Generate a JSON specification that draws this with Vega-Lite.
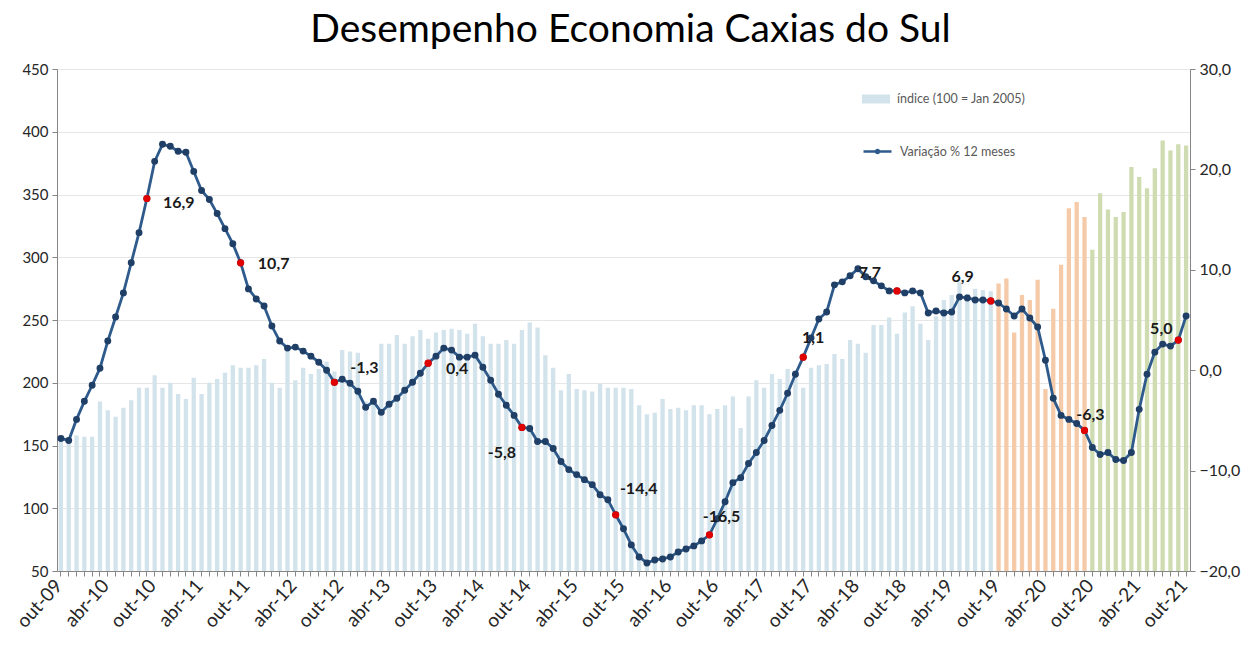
{
  "$schema": "https://vega.github.io/schema/vega-lite/v6.json",
  "width": 1133,
  "height": 502,
  "autosize": {"type": "none"},
  "padding": {"left": 57, "top": 69, "right": 58, "bottom": 77},
  "background": "white",
  "title": {"text": "Desempenho Economia Caxias do Sul", "fontSize": 39, "font": "Lato", "fontWeight": "normal", "color": "#000000", "anchor": "middle", "frame": "group", "baseline": "alphabetic", "offset": 23, "dy": 43, "dx": 7},
  "config": {
    "view": {"stroke": null},
    "font": "Lato",
    "axis": {"domainColor": "#868686", "tickColor": "#868686", "labelColor": "#262626", "labelFont": "Lato"},
    "legend": {"labelFont": "Lato", "labelFontSize": 12.5, "labelColor": "#595959", "padding": 0},
    "text": {"fontSize": 16, "fontWeight": "bold", "font": "Lato", "color": "#1a1a1a", "align": "center", "baseline": "middle"}
  },
  "data": {"values": [
    {"mes":"out-09","indice":153,"variacao":-6.8,"serie":"índice (100 = Jan 2005)","rotulo":""},
    {"mes":"nov-09","indice":153,"variacao":-7.0,"serie":"índice (100 = Jan 2005)","rotulo":""},
    {"mes":"dez-09","indice":158,"variacao":-4.9,"serie":"índice (100 = Jan 2005)","rotulo":""},
    {"mes":"jan-10","indice":157,"variacao":-3.1,"serie":"índice (100 = Jan 2005)","rotulo":""},
    {"mes":"fev-10","indice":157,"variacao":-1.5,"serie":"índice (100 = Jan 2005)","rotulo":""},
    {"mes":"mar-10","indice":185,"variacao":0.2,"serie":"índice (100 = Jan 2005)","rotulo":""},
    {"mes":"abr-10","indice":178,"variacao":2.9,"serie":"índice (100 = Jan 2005)","rotulo":""},
    {"mes":"mai-10","indice":173,"variacao":5.3,"serie":"índice (100 = Jan 2005)","rotulo":""},
    {"mes":"jun-10","indice":180,"variacao":7.7,"serie":"índice (100 = Jan 2005)","rotulo":""},
    {"mes":"jul-10","indice":186,"variacao":10.7,"serie":"índice (100 = Jan 2005)","rotulo":""},
    {"mes":"ago-10","indice":196,"variacao":13.7,"serie":"índice (100 = Jan 2005)","rotulo":""},
    {"mes":"set-10","indice":196,"variacao":17.1,"serie":"índice (100 = Jan 2005)","rotulo":"16,9"},
    {"mes":"out-10","indice":206,"variacao":20.8,"serie":"índice (100 = Jan 2005)","rotulo":""},
    {"mes":"nov-10","indice":196,"variacao":22.5,"serie":"índice (100 = Jan 2005)","rotulo":""},
    {"mes":"dez-10","indice":200,"variacao":22.3,"serie":"índice (100 = Jan 2005)","rotulo":""},
    {"mes":"jan-11","indice":191,"variacao":21.8,"serie":"índice (100 = Jan 2005)","rotulo":""},
    {"mes":"fev-11","indice":187,"variacao":21.7,"serie":"índice (100 = Jan 2005)","rotulo":""},
    {"mes":"mar-11","indice":204,"variacao":19.8,"serie":"índice (100 = Jan 2005)","rotulo":""},
    {"mes":"abr-11","indice":191,"variacao":17.9,"serie":"índice (100 = Jan 2005)","rotulo":""},
    {"mes":"mai-11","indice":200,"variacao":17.0,"serie":"índice (100 = Jan 2005)","rotulo":""},
    {"mes":"jun-11","indice":203,"variacao":15.6,"serie":"índice (100 = Jan 2005)","rotulo":""},
    {"mes":"jul-11","indice":208,"variacao":14.1,"serie":"índice (100 = Jan 2005)","rotulo":""},
    {"mes":"ago-11","indice":214,"variacao":12.6,"serie":"índice (100 = Jan 2005)","rotulo":""},
    {"mes":"set-11","indice":212,"variacao":10.7,"serie":"índice (100 = Jan 2005)","rotulo":"10,7"},
    {"mes":"out-11","indice":212,"variacao":8.1,"serie":"índice (100 = Jan 2005)","rotulo":""},
    {"mes":"nov-11","indice":214,"variacao":7.1,"serie":"índice (100 = Jan 2005)","rotulo":""},
    {"mes":"dez-11","indice":219,"variacao":6.4,"serie":"índice (100 = Jan 2005)","rotulo":""},
    {"mes":"jan-12","indice":200,"variacao":4.4,"serie":"índice (100 = Jan 2005)","rotulo":""},
    {"mes":"fev-12","indice":196,"variacao":2.9,"serie":"índice (100 = Jan 2005)","rotulo":""},
    {"mes":"mar-12","indice":226,"variacao":2.2,"serie":"índice (100 = Jan 2005)","rotulo":""},
    {"mes":"abr-12","indice":202,"variacao":2.3,"serie":"índice (100 = Jan 2005)","rotulo":""},
    {"mes":"mai-12","indice":212,"variacao":1.9,"serie":"índice (100 = Jan 2005)","rotulo":""},
    {"mes":"jun-12","indice":207,"variacao":1.4,"serie":"índice (100 = Jan 2005)","rotulo":""},
    {"mes":"jul-12","indice":211,"variacao":0.8,"serie":"índice (100 = Jan 2005)","rotulo":""},
    {"mes":"ago-12","indice":217,"variacao":0.0,"serie":"índice (100 = Jan 2005)","rotulo":""},
    {"mes":"set-12","indice":209,"variacao":-1.2,"serie":"índice (100 = Jan 2005)","rotulo":"-1,3"},
    {"mes":"out-12","indice":226,"variacao":-0.9,"serie":"índice (100 = Jan 2005)","rotulo":""},
    {"mes":"nov-12","indice":225,"variacao":-1.3,"serie":"índice (100 = Jan 2005)","rotulo":""},
    {"mes":"dez-12","indice":224,"variacao":-2.1,"serie":"índice (100 = Jan 2005)","rotulo":""},
    {"mes":"jan-13","indice":185,"variacao":-3.7,"serie":"índice (100 = Jan 2005)","rotulo":""},
    {"mes":"fev-13","indice":183,"variacao":-3.1,"serie":"índice (100 = Jan 2005)","rotulo":""},
    {"mes":"mar-13","indice":231,"variacao":-4.2,"serie":"índice (100 = Jan 2005)","rotulo":""},
    {"mes":"abr-13","indice":231,"variacao":-3.4,"serie":"índice (100 = Jan 2005)","rotulo":""},
    {"mes":"mai-13","indice":238,"variacao":-2.8,"serie":"índice (100 = Jan 2005)","rotulo":""},
    {"mes":"jun-13","indice":231,"variacao":-2.0,"serie":"índice (100 = Jan 2005)","rotulo":""},
    {"mes":"jul-13","indice":237,"variacao":-1.2,"serie":"índice (100 = Jan 2005)","rotulo":""},
    {"mes":"ago-13","indice":242,"variacao":-0.3,"serie":"índice (100 = Jan 2005)","rotulo":""},
    {"mes":"set-13","indice":235,"variacao":0.7,"serie":"índice (100 = Jan 2005)","rotulo":"0,4"},
    {"mes":"out-13","indice":240,"variacao":1.4,"serie":"índice (100 = Jan 2005)","rotulo":""},
    {"mes":"nov-13","indice":242,"variacao":2.2,"serie":"índice (100 = Jan 2005)","rotulo":""},
    {"mes":"dez-13","indice":243,"variacao":2.0,"serie":"índice (100 = Jan 2005)","rotulo":""},
    {"mes":"jan-14","indice":242,"variacao":1.3,"serie":"índice (100 = Jan 2005)","rotulo":""},
    {"mes":"fev-14","indice":239,"variacao":1.3,"serie":"índice (100 = Jan 2005)","rotulo":""},
    {"mes":"mar-14","indice":247,"variacao":1.5,"serie":"índice (100 = Jan 2005)","rotulo":""},
    {"mes":"abr-14","indice":237,"variacao":0.3,"serie":"índice (100 = Jan 2005)","rotulo":""},
    {"mes":"mai-14","indice":231,"variacao":-1.0,"serie":"índice (100 = Jan 2005)","rotulo":""},
    {"mes":"jun-14","indice":231,"variacao":-2.4,"serie":"índice (100 = Jan 2005)","rotulo":""},
    {"mes":"jul-14","indice":234,"variacao":-3.5,"serie":"índice (100 = Jan 2005)","rotulo":""},
    {"mes":"ago-14","indice":231,"variacao":-4.5,"serie":"índice (100 = Jan 2005)","rotulo":""},
    {"mes":"set-14","indice":242,"variacao":-5.7,"serie":"índice (100 = Jan 2005)","rotulo":"-5,8"},
    {"mes":"out-14","indice":248,"variacao":-5.8,"serie":"índice (100 = Jan 2005)","rotulo":""},
    {"mes":"nov-14","indice":244,"variacao":-7.1,"serie":"índice (100 = Jan 2005)","rotulo":""},
    {"mes":"dez-14","indice":222,"variacao":-7.1,"serie":"índice (100 = Jan 2005)","rotulo":""},
    {"mes":"jan-15","indice":212,"variacao":-7.8,"serie":"índice (100 = Jan 2005)","rotulo":""},
    {"mes":"fev-15","indice":194,"variacao":-9.1,"serie":"índice (100 = Jan 2005)","rotulo":""},
    {"mes":"mar-15","indice":207,"variacao":-9.9,"serie":"índice (100 = Jan 2005)","rotulo":""},
    {"mes":"abr-15","indice":195,"variacao":-10.4,"serie":"índice (100 = Jan 2005)","rotulo":""},
    {"mes":"mai-15","indice":194,"variacao":-10.9,"serie":"índice (100 = Jan 2005)","rotulo":""},
    {"mes":"jun-15","indice":193,"variacao":-11.4,"serie":"índice (100 = Jan 2005)","rotulo":""},
    {"mes":"jul-15","indice":199,"variacao":-12.4,"serie":"índice (100 = Jan 2005)","rotulo":""},
    {"mes":"ago-15","indice":196,"variacao":-12.9,"serie":"índice (100 = Jan 2005)","rotulo":""},
    {"mes":"set-15","indice":196,"variacao":-14.4,"serie":"índice (100 = Jan 2005)","rotulo":"-14,4"},
    {"mes":"out-15","indice":196,"variacao":-15.8,"serie":"índice (100 = Jan 2005)","rotulo":""},
    {"mes":"nov-15","indice":195,"variacao":-17.4,"serie":"índice (100 = Jan 2005)","rotulo":""},
    {"mes":"dez-15","indice":182,"variacao":-18.6,"serie":"índice (100 = Jan 2005)","rotulo":""},
    {"mes":"jan-16","indice":175,"variacao":-19.2,"serie":"índice (100 = Jan 2005)","rotulo":""},
    {"mes":"fev-16","indice":176,"variacao":-18.9,"serie":"índice (100 = Jan 2005)","rotulo":""},
    {"mes":"mar-16","indice":187,"variacao":-18.8,"serie":"índice (100 = Jan 2005)","rotulo":""},
    {"mes":"abr-16","indice":179,"variacao":-18.6,"serie":"índice (100 = Jan 2005)","rotulo":""},
    {"mes":"mai-16","indice":180,"variacao":-18.1,"serie":"índice (100 = Jan 2005)","rotulo":""},
    {"mes":"jun-16","indice":178,"variacao":-17.8,"serie":"índice (100 = Jan 2005)","rotulo":""},
    {"mes":"jul-16","indice":182,"variacao":-17.5,"serie":"índice (100 = Jan 2005)","rotulo":""},
    {"mes":"ago-16","indice":182,"variacao":-17.0,"serie":"índice (100 = Jan 2005)","rotulo":""},
    {"mes":"set-16","indice":175,"variacao":-16.4,"serie":"índice (100 = Jan 2005)","rotulo":"-16,5"},
    {"mes":"out-16","indice":179,"variacao":-14.8,"serie":"índice (100 = Jan 2005)","rotulo":""},
    {"mes":"nov-16","indice":182,"variacao":-13.1,"serie":"índice (100 = Jan 2005)","rotulo":""},
    {"mes":"dez-16","indice":189,"variacao":-11.2,"serie":"índice (100 = Jan 2005)","rotulo":""},
    {"mes":"jan-17","indice":164,"variacao":-10.7,"serie":"índice (100 = Jan 2005)","rotulo":""},
    {"mes":"fev-17","indice":189,"variacao":-9.3,"serie":"índice (100 = Jan 2005)","rotulo":""},
    {"mes":"mar-17","indice":202,"variacao":-8.2,"serie":"índice (100 = Jan 2005)","rotulo":""},
    {"mes":"abr-17","indice":196,"variacao":-7.0,"serie":"índice (100 = Jan 2005)","rotulo":""},
    {"mes":"mai-17","indice":207,"variacao":-5.5,"serie":"índice (100 = Jan 2005)","rotulo":""},
    {"mes":"jun-17","indice":203,"variacao":-4.0,"serie":"índice (100 = Jan 2005)","rotulo":""},
    {"mes":"jul-17","indice":211,"variacao":-2.3,"serie":"índice (100 = Jan 2005)","rotulo":""},
    {"mes":"ago-17","indice":210,"variacao":-0.4,"serie":"índice (100 = Jan 2005)","rotulo":""},
    {"mes":"set-17","indice":196,"variacao":1.3,"serie":"índice (100 = Jan 2005)","rotulo":"1,1"},
    {"mes":"out-17","indice":212,"variacao":3.2,"serie":"índice (100 = Jan 2005)","rotulo":""},
    {"mes":"nov-17","indice":214,"variacao":5.1,"serie":"índice (100 = Jan 2005)","rotulo":""},
    {"mes":"dez-17","indice":215,"variacao":5.8,"serie":"índice (100 = Jan 2005)","rotulo":""},
    {"mes":"jan-18","indice":223,"variacao":8.5,"serie":"índice (100 = Jan 2005)","rotulo":""},
    {"mes":"fev-18","indice":219,"variacao":8.8,"serie":"índice (100 = Jan 2005)","rotulo":""},
    {"mes":"mar-18","indice":234,"variacao":9.4,"serie":"índice (100 = Jan 2005)","rotulo":""},
    {"mes":"abr-18","indice":231,"variacao":10.1,"serie":"índice (100 = Jan 2005)","rotulo":""},
    {"mes":"mai-18","indice":224,"variacao":9.3,"serie":"índice (100 = Jan 2005)","rotulo":""},
    {"mes":"jun-18","indice":246,"variacao":8.9,"serie":"índice (100 = Jan 2005)","rotulo":""},
    {"mes":"jul-18","indice":246,"variacao":8.4,"serie":"índice (100 = Jan 2005)","rotulo":""},
    {"mes":"ago-18","indice":252,"variacao":7.9,"serie":"índice (100 = Jan 2005)","rotulo":""},
    {"mes":"set-18","indice":239,"variacao":7.9,"serie":"índice (100 = Jan 2005)","rotulo":"7,7"},
    {"mes":"out-18","indice":256,"variacao":7.7,"serie":"índice (100 = Jan 2005)","rotulo":""},
    {"mes":"nov-18","indice":261,"variacao":7.9,"serie":"índice (100 = Jan 2005)","rotulo":""},
    {"mes":"dez-18","indice":247,"variacao":7.7,"serie":"índice (100 = Jan 2005)","rotulo":""},
    {"mes":"jan-19","indice":234,"variacao":5.7,"serie":"índice (100 = Jan 2005)","rotulo":""},
    {"mes":"fev-19","indice":253,"variacao":5.9,"serie":"índice (100 = Jan 2005)","rotulo":""},
    {"mes":"mar-19","indice":266,"variacao":5.7,"serie":"índice (100 = Jan 2005)","rotulo":""},
    {"mes":"abr-19","indice":270,"variacao":5.8,"serie":"índice (100 = Jan 2005)","rotulo":""},
    {"mes":"mai-19","indice":280,"variacao":7.3,"serie":"índice (100 = Jan 2005)","rotulo":""},
    {"mes":"jun-19","indice":271,"variacao":7.2,"serie":"índice (100 = Jan 2005)","rotulo":""},
    {"mes":"jul-19","indice":275,"variacao":7.0,"serie":"índice (100 = Jan 2005)","rotulo":""},
    {"mes":"ago-19","indice":274,"variacao":7.0,"serie":"índice (100 = Jan 2005)","rotulo":""},
    {"mes":"set-19","indice":273,"variacao":6.9,"serie":"índice (100 = Jan 2005)","rotulo":"6,9"},
    {"mes":"out-19","indice":279,"variacao":6.7,"serie":"out-19 a set-20","rotulo":""},
    {"mes":"nov-19","indice":283,"variacao":6.1,"serie":"out-19 a set-20","rotulo":""},
    {"mes":"dez-19","indice":240,"variacao":5.4,"serie":"out-19 a set-20","rotulo":""},
    {"mes":"jan-20","indice":270,"variacao":6.1,"serie":"out-19 a set-20","rotulo":""},
    {"mes":"fev-20","indice":266,"variacao":5.2,"serie":"out-19 a set-20","rotulo":""},
    {"mes":"mar-20","indice":282,"variacao":4.3,"serie":"out-19 a set-20","rotulo":""},
    {"mes":"abr-20","indice":195,"variacao":1.0,"serie":"out-19 a set-20","rotulo":""},
    {"mes":"mai-20","indice":259,"variacao":-2.8,"serie":"out-19 a set-20","rotulo":""},
    {"mes":"jun-20","indice":294,"variacao":-4.5,"serie":"out-19 a set-20","rotulo":""},
    {"mes":"jul-20","indice":339,"variacao":-4.9,"serie":"out-19 a set-20","rotulo":""},
    {"mes":"ago-20","indice":344,"variacao":-5.3,"serie":"out-19 a set-20","rotulo":""},
    {"mes":"set-20","indice":332,"variacao":-6.0,"serie":"out-19 a set-20","rotulo":"-6,3"},
    {"mes":"out-20","indice":306,"variacao":-7.7,"serie":"out-20 a out-21","rotulo":""},
    {"mes":"nov-20","indice":351,"variacao":-8.4,"serie":"out-20 a out-21","rotulo":""},
    {"mes":"dez-20","indice":338,"variacao":-8.2,"serie":"out-20 a out-21","rotulo":""},
    {"mes":"jan-21","indice":332,"variacao":-8.9,"serie":"out-20 a out-21","rotulo":""},
    {"mes":"fev-21","indice":336,"variacao":-9.0,"serie":"out-20 a out-21","rotulo":""},
    {"mes":"mar-21","indice":372,"variacao":-8.2,"serie":"out-20 a out-21","rotulo":""},
    {"mes":"abr-21","indice":364,"variacao":-3.9,"serie":"out-20 a out-21","rotulo":""},
    {"mes":"mai-21","indice":355,"variacao":-0.4,"serie":"out-20 a out-21","rotulo":""},
    {"mes":"jun-21","indice":371,"variacao":1.8,"serie":"out-20 a out-21","rotulo":""},
    {"mes":"jul-21","indice":393,"variacao":2.6,"serie":"out-20 a out-21","rotulo":""},
    {"mes":"ago-21","indice":385,"variacao":2.4,"serie":"out-20 a out-21","rotulo":""},
    {"mes":"set-21","indice":390,"variacao":3.0,"serie":"out-20 a out-21","rotulo":"5,0"},
    {"mes":"out-21","indice":389,"variacao":5.4,"serie":"out-20 a out-21","rotulo":""}
  ]},
  "layer": [
    {
      "mark": {"type": "bar"},
      "encoding": {
        "x": {"field": "mes", "type": "ordinal", "sort": null,
          "scale": {"paddingInner": 0.45, "paddingOuter": 0.225},
          "axis": {"title": null, "labelAngle": -48, "labelFontSize": 19, "labelOverlap": false,
            "labelExpr": "slice(datum.value,0,3)=='out' || slice(datum.value,0,3)=='abr' ? datum.value : ''",
            "tickSize": 5, "labelPadding": 6, "labelOffset": -2, "grid": false}},
        "y": {"field": "indice", "type": "quantitative",
          "scale": {"domain": [50, 450], "zero": false, "nice": false},
          "axis": {"title": null, "values": [50, 100, 150, 200, 250, 300, 350, 400, 450], "grid": true, "gridColor": "#e6e6e6", "labelFontSize": 15, "tickSize": 5, "labelPadding": 4}},
        "y2": {"datum": 50},
        "color": {"field": "serie", "type": "nominal",
          "scale": {"domain": ["índice (100 = Jan 2005)", "out-19 a set-20", "out-20 a out-21"], "range": ["#d3e3eb", "#f5caa8", "#cfdcb2"]},
          "legend": {"orient": "none", "legendX": 805, "legendY": 16, "title": null, "values": ["índice (100 = Jan 2005)"],
            "symbolType": "M-1,-0.32H1V0.32H-1Z", "symbolSize": 784, "symbolStrokeWidth": 0, "labelOffset": 7}}
      }
    },
    {
      "encoding": {
        "x": {"field": "mes", "type": "ordinal", "sort": null},
        "y": {"field": "variacao", "type": "quantitative",
          "scale": {"domain": [-20, 30], "zero": false, "nice": false},
          "axis": {"orient": "right", "title": null, "values": [-20, -10, 0, 10, 20, 30], "grid": false,
            "labelExpr": "replace(format(datum.value,'.1f'),'.',',')", "labelFontSize": 16, "tickSize": 5, "labelPadding": 4}}
      },
      "layer": [
        {"mark": {"type": "line", "strokeWidth": 2.8},
         "encoding": {"stroke": {"datum": "Variação % 12 meses", "scale": {"range": ["#2e5b8c"]},
           "legend": {"orient": "none", "legendX": 805, "legendY": 67, "title": null,
             "symbolType": "M-1,0H1M-0.11,0A0.11,0.11,0,1,1,0.11,0A0.11,0.11,0,1,1,-0.11,0", "symbolSize": 784, "symbolStrokeWidth": 2.5, "symbolFillColor": "#1f3f66", "labelOffset": 7}}}},
        {"mark": {"type": "point", "filled": true, "size": 48, "color": "#203f66", "opacity": 1}},
        {"transform": [{"filter": "datum.rotulo != ''"}], "mark": {"type": "point", "filled": true, "size": 52, "color": "#e00000", "opacity": 1}},
        {"transform": [{"filter": "datum.rotulo != ''"}],
         "encoding": {"text": {"field": "rotulo"}},
         "layer": [
           {"transform": [{"filter": "datum.rotulo == '16,9'"}], "mark": {"type": "text", "dx": 32, "dy": 4}},
           {"transform": [{"filter": "datum.rotulo == '10,7'"}], "mark": {"type": "text", "dx": 33, "dy": 1}},
           {"transform": [{"filter": "datum.rotulo == '-1,3'"}], "mark": {"type": "text", "dx": 30, "dy": -14}},
           {"transform": [{"filter": "datum.rotulo == '0,4'"}], "mark": {"type": "text", "dx": 29, "dy": 6}},
           {"transform": [{"filter": "datum.rotulo == '-5,8'"}], "mark": {"type": "text", "dx": -20, "dy": 26}},
           {"transform": [{"filter": "datum.rotulo == '-14,4'"}], "mark": {"type": "text", "dx": 23, "dy": -26}},
           {"transform": [{"filter": "datum.rotulo == '-16,5'"}], "mark": {"type": "text", "dx": 12, "dy": -18}},
           {"transform": [{"filter": "datum.rotulo == '1,1'"}], "mark": {"type": "text", "dx": 10, "dy": -19}},
           {"transform": [{"filter": "datum.rotulo == '7,7'"}], "mark": {"type": "text", "dx": -27, "dy": -18}},
           {"transform": [{"filter": "datum.rotulo == '6,9'"}], "mark": {"type": "text", "dx": -28, "dy": -24}},
           {"transform": [{"filter": "datum.rotulo == '-6,3'"}], "mark": {"type": "text", "dx": 6, "dy": -15}},
           {"transform": [{"filter": "datum.rotulo == '5,0'"}], "mark": {"type": "text", "dx": -17, "dy": -11}}
         ]}
      ]
    }
  ],
  "resolve": {"scale": {"y": "independent"}}
}
